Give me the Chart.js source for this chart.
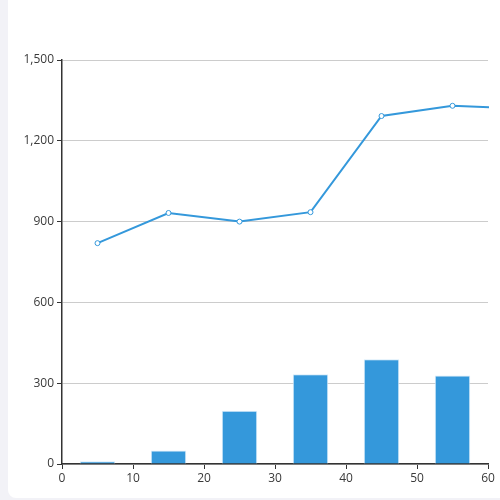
<!DOCTYPE html>
<html>
<head>
<meta charset="utf-8">
<script src="https://cdn.jsdelivr.net/npm/chart.js@4"></script>
<style>
  html, body { margin: 0; padding: 0; width: 500px; height: 500px; background: #f2f2f7; overflow: hidden; }
  #card { position: absolute; left: 8px; top: 0; width: 492px; height: 498px; background: #fff; border-radius: 0 0 0 8px; }
  canvas { display: block; }
</style>
</head>
<body>
<div id="card"><canvas id="c" width="492" height="498"></canvas></div>
<script>
const barX = [5, 15, 25, 35, 45, 55];
const barValues = [10, 50, 198, 333, 389, 329];
const lineX = [5, 15, 25, 35, 45, 55, 65];
const lineValues = [820, 932, 900, 935, 1292, 1330, 1320];
const xTicks = [0, 10, 20, 30, 40, 50, 60];
const yTicks = [0, 300, 600, 900, 1200, 1500];

const blue = '#3498db';
const font = { family: 'Open Sans', size: 12 };

new Chart(document.getElementById('c'), {
  data: {
    datasets: [
      {
        type: 'line',
        data: lineX.map((x, i) => ({ x, y: lineValues[i] })),
        borderColor: blue,
        borderWidth: 2,
        tension: 0,
        pointRadius: 2.5,
        pointBackgroundColor: '#fff',
        pointBorderColor: blue,
        pointBorderWidth: 1,
        clip: { left: 1, right: 1, top: 4, bottom: 1 },
        order: 0
      },
      {
        type: 'bar',
        data: barX.map((x, i) => ({ x, y: barValues[i] })),
        backgroundColor: blue,
        borderColor: 'rgba(215,235,250,1)',
        borderWidth: 1,
        barPercentage: 0.5,
        categoryPercentage: 1,
        order: 1
      }
    ]
  },
  options: {
    responsive: false,
    animation: false,
    devicePixelRatio: 1,
    layout: { padding: { top: 60, right: 12, left: 0, bottom: 0 } },
    plugins: { legend: { display: false }, tooltip: { enabled: false } },
    scales: {
      x: {
        type: 'linear',
        offset: false,
        min: 0, max: 60,
        afterBuildTicks: s => { s.ticks = xTicks.map(v => ({ value: v })); },
        afterFit: s => { s.height = 34; },
        ticks: { color: '#3a3a3a', font, padding: 2, maxRotation: 0 },
        grid: { offset: false, drawOnChartArea: false, color: '#333', tickLength: 5, tickColor: '#333' },
        border: { color: '#333', width: 1.5 }
      },
      y: {
        min: 0, max: 1500,
        afterBuildTicks: s => { s.ticks = yTicks.map(v => ({ value: v })); },
        afterFit: s => { s.width = 54; },
        ticks: { color: '#3a3a3a', font, padding: 3, callback: v => v.toLocaleString('en-US') },
        grid: { color: '#cccccc', tickLength: 5, tickColor: '#333' },
        border: { color: '#333', width: 1.5 }
      }
    }
  }
});
</script>
</body>
</html>
